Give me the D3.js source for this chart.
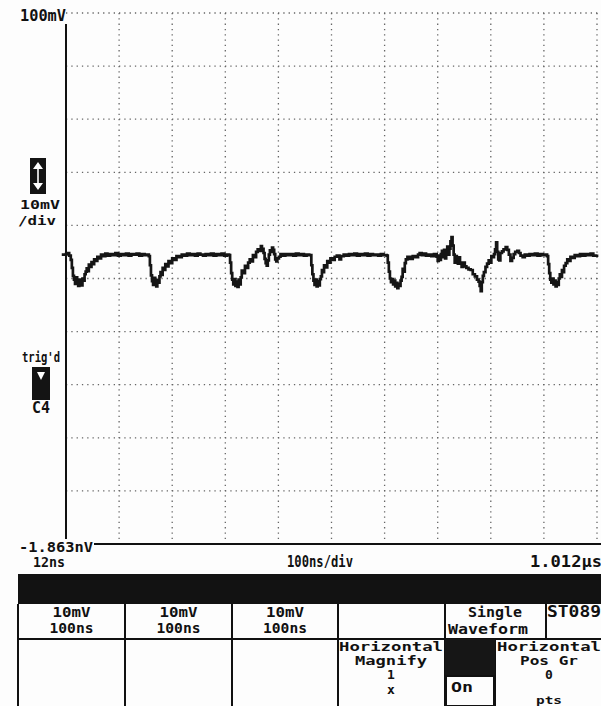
<!DOCTYPE html>
<html>
<head>
<meta charset="utf-8">
<script src="https://cdn.jsdelivr.net/npm/d3@7"></script>
<style>
  html, body { margin: 0; padding: 0; background: #fdfdfd; }
  svg { display: block; }
  text { font-family: "DejaVu Sans Mono", "Liberation Mono", monospace; font-weight: bold; fill: #111; }
</style>
</head>
<body>
<svg id="scope" width="601" height="706"></svg>
<script>
// Acquisition settings shown on screen
const timeRangeNs = [12, 1012];      // 100 ns/div, 10 divisions
const voltRangeMV = [0, 100];        // 10 mV/div, 10 divisions
const xDivisions = d3.range(0, 11);  // grid columns
const yDivisions = d3.range(0, 11);  // grid rows

// Channel 4 trace: time (ns)
const traceT = [4, 12, 15, 18, 21, 23, 25, 27, 29, 31, 33, 35, 37, 39, 41, 43, 45, 47, 49, 51, 53, 55, 57, 60, 62, 65, 68, 71, 74, 78, 82, 86, 90, 95, 100, 105, 110, 115, 120, 125, 130, 135, 140, 145, 150, 155, 160, 165,
  168, 170, 172, 174, 176, 178, 180, 182, 184, 186, 188, 190, 192, 194, 196, 199, 202, 205, 208, 212, 216, 220, 225, 230, 235, 240, 245, 250, 255, 260, 265, 270, 275, 280, 285, 290, 295, 300, 305, 310, 315, 319,
  321, 323, 325, 327, 329, 331, 333, 335, 337, 339, 341, 343, 346, 349, 352, 355, 358, 361, 364, 367, 370, 373, 376, 379, 381, 384, 386, 388, 390, 392, 394, 396, 398, 400, 402, 404, 406, 408, 410, 413, 416, 420, 425, 430, 435, 440, 445, 450, 455, 460, 465, 470,
  474, 476, 478, 480, 482, 484, 486, 488, 490, 492, 494, 496, 498, 501, 504, 507, 510, 514, 518, 522, 527, 530, 535, 540, 545, 550, 555, 560, 565, 570, 575, 580, 585, 590, 595, 600, 605, 610, 616,
  618, 620, 622, 624, 626, 628, 630, 632, 634, 636, 638, 640, 642, 644, 646, 648, 650, 652, 655, 660, 665, 670, 675, 678, 682, 686, 690, 695, 700, 705, 710,
  712, 714, 716, 718, 720, 722, 724, 726, 728, 730, 732, 734, 736, 738, 740, 742, 744, 746, 748, 750, 752, 754, 757, 760, 763, 766, 770, 774, 778, 782, 786, 789, 791, 793, 795, 797, 799, 802, 805, 808, 811, 813, 815, 818, 820, 822, 824, 826, 828, 830, 833, 836, 840, 843, 846, 849, 852, 855, 858, 862, 865, 868, 872, 876, 880, 885, 890, 895, 900, 905, 910, 915,
  918, 920, 922, 924, 926, 928, 930, 932, 934, 936, 938, 940, 942, 944, 946, 948, 950, 953, 956, 959, 962, 966, 970, 975, 980, 985, 990, 995, 1000, 1005, 1012];

// Channel 4 trace: amplitude (mV)
const traceMV = [54.5, 54.6, 54.8, 54.3, 53.5, 52.0, 50.5, 49.8, 49.0, 50.2, 49.2, 48.6, 49.8, 49.3, 48.7, 50.0, 49.6, 50.8, 51.3, 51.9, 51.4, 52.6, 52.2, 53.1, 52.7, 53.6, 53.3, 54.1, 53.8, 54.5, 54.2, 54.7, 54.3, 54.6, 54.4, 54.8, 54.3, 54.6, 54.4, 54.7, 54.3, 54.6, 54.5, 54.7, 54.3, 54.6, 54.4, 54.5,
  54.2, 52.5, 50.6, 49.5, 48.8, 50.1, 49.0, 48.5, 49.7, 49.2, 50.4, 51.2, 50.7, 52.0, 51.6, 52.7, 52.3, 53.3, 52.9, 53.8, 53.5, 54.2, 54.0, 54.5, 54.3, 54.7, 54.4, 54.6, 54.3, 54.7, 54.5, 54.3, 54.6, 54.4, 54.7, 54.3, 54.6, 54.4, 54.7, 54.3, 54.5, 54.4,
  53.0, 51.0, 49.8, 48.9, 49.9, 48.6, 49.4, 48.4, 49.8, 48.9, 50.2, 51.5, 51.0, 52.4, 52.0, 53.0, 53.6, 53.2, 54.4, 54.0, 55.0, 55.5, 55.2, 56.1, 55.6, 54.8, 53.7, 52.9, 52.4, 53.4, 54.5, 55.3, 55.0, 55.8, 55.4, 54.6, 53.6, 53.2, 53.8, 54.1, 54.6, 54.3, 54.6, 54.4, 54.6, 54.3, 54.7, 54.4, 54.6, 54.3, 54.5, 54.4,
  52.5, 50.8, 49.6, 48.8, 49.8, 48.5, 49.5, 48.7, 49.9, 50.4, 51.6, 51.2, 52.5, 52.1, 53.3, 53.0, 53.8, 53.5, 54.1, 54.3, 53.6, 54.2, 54.5, 54.3, 54.6, 54.4, 54.7, 54.3, 54.6, 54.4, 54.7, 54.3, 54.6, 54.4, 54.5, 54.3, 54.6, 54.4, 54.3,
  53.0, 51.3, 50.0, 49.3, 49.9, 48.9, 49.6, 48.5, 49.2, 48.2, 49.0, 48.6, 49.6, 50.3, 51.8, 51.3, 52.9, 53.6, 54.1, 53.7, 54.2, 54.0, 54.5, 54.8, 54.4, 54.7, 54.3, 54.5, 54.2, 54.6, 54.1,
  53.3, 54.3, 53.5, 54.6, 55.2, 54.0, 55.4, 53.8, 55.0, 56.0, 54.5, 55.6, 57.0, 57.8, 56.2, 54.5, 53.0, 54.2, 53.2, 52.8, 54.0, 53.0, 52.2, 53.0, 52.3, 52.0, 51.7, 51.6, 50.8, 50.4, 49.8, 49.4, 48.6, 47.6, 49.3, 50.5, 51.2, 52.2, 52.8, 53.4, 53.0, 54.2, 54.0, 54.6, 55.5, 56.8, 55.0, 53.6, 53.4, 54.8, 55.1, 55.5, 55.9, 55.4, 54.5, 53.3, 53.9, 54.6, 55.0, 55.2, 54.8, 54.3, 54.0, 54.5, 54.3, 54.6, 54.4, 54.7, 54.3, 54.6, 54.4, 54.5,
  54.2, 52.7, 51.0, 49.8, 49.2, 50.0, 48.9, 49.6, 48.5, 49.3, 48.8, 50.0, 50.8, 50.3, 51.6, 51.2, 52.4, 52.9, 53.6, 53.3, 54.1, 53.9, 54.4, 54.2, 54.6, 54.3, 54.6, 54.4, 54.7, 54.3, 54.5];

// Readout labels
const topLabel = "100mV";
const bottomLabel = "-1.863nV";
const scaleLabels = ["10mV", "/div"];
const timeLabels = ["12ns", "100ns/div", "1.012\u00b5s"];
const channelCells = [["10mV", "100ns"], ["10mV", "100ns"], ["10mV", "100ns"]];
const modeLabels = ["Single", "Waveform"];
const storeLabel = "ST089";
const magnifyLabels = ["Horizontal", "Magnify", "1", "x"];
const positionLabels = ["Horizontal", "Pos Gr", "0", "pts"];

const svg = d3.select("#scope");

// Graticule geometry
const plot = { left: 66, right: 597, top: 13, bottom: 544 };
const x = d3.scaleLinear().domain(timeRangeNs).range([plot.left, plot.right]);
const y = d3.scaleLinear().domain(voltRangeMV).range([plot.bottom, plot.top]);
const xDiv = d3.scaleLinear().domain([0, 10]).range([plot.left, plot.right]);
const yDiv = d3.scaleLinear().domain([0, 10]).range([plot.bottom, plot.top]);

const grid = svg.append("g").attr("stroke", "#666").attr("stroke-width", 1.3)
  .attr("stroke-dasharray", "1.3,4").attr("fill", "none");
grid.selectAll("line.v").data(xDivisions.filter(d => d > 0)).join("line")
  .attr("class", "v")
  .attr("x1", d => xDiv(d)).attr("x2", d => xDiv(d))
  .attr("y1", plot.top).attr("y2", plot.bottom);
grid.selectAll("line.h").data(yDivisions.filter(d => d > 0)).join("line")
  .attr("class", "h")
  .attr("x1", plot.left).attr("x2", plot.right + 4)
  .attr("y1", d => yDiv(d)).attr("y2", d => yDiv(d));

// Solid left and bottom edges
svg.append("line").attr("x1", plot.left).attr("x2", plot.left)
  .attr("y1", 24).attr("y2", plot.bottom - 5)
  .attr("stroke", "#111").attr("stroke-width", 2);
svg.append("line").attr("x1", 94).attr("x2", 601)
  .attr("y1", plot.bottom).attr("y2", plot.bottom)
  .attr("stroke", "#111").attr("stroke-width", 2);

// Waveform
const pts = traceT.map((t, i) => [t, traceMV[i]]);
const line = d3.line().x(d => x(d[0])).y(d => y(d[1])).curve(d3.curveStepAfter);
svg.append("path").datum(pts)
  .attr("d", line)
  .attr("fill", "none").attr("stroke", "#151515")
  .attr("stroke-width", 2.7).attr("stroke-linejoin", "miter");

// Text helper
function label(txt, px, py, size, len, anchor) {
  const t = svg.append("text").attr("x", px).attr("y", py)
    .attr("font-size", size).attr("text-anchor", anchor || "start").text(txt);
  if (len) t.attr("textLength", len).attr("lengthAdjust", "spacingAndGlyphs");
  return t;
}

// Left-side readouts
label(topLabel, 20, 21, 15, 46);
label(scaleLabels[0], 20, 209, 13, 40);
label(scaleLabels[1], 18, 225, 13, 38);
label("trig'd", 22, 362, 14, 38);
label("C4", 32, 413, 16, 18);
label(bottomLabel, 19, 552, 14, 74);

// Volts/div adjust icon
svg.append("rect").attr("x", 30).attr("y", 158).attr("width", 16).attr("height", 36).attr("fill", "#141414");
svg.append("line").attr("x1", 38).attr("x2", 38).attr("y1", 164).attr("y2", 188)
  .attr("stroke", "#fff").attr("stroke-width", 1.6);
svg.append("path").attr("d", "M33,169 L38,162 L43,169 Z M33,183 L38,190 L43,183 Z").attr("fill", "#fff");

// Trigger marker
svg.append("rect").attr("x", 32).attr("y", 367).attr("width", 18).attr("height", 33).attr("fill", "#141414");
svg.append("path").attr("d", "M37,372 L45,372 L41,380 Z").attr("fill", "#fff");

// Time readouts
label(timeLabels[0], 33, 567, 14, 32);
label(timeLabels[1], 287, 567, 15, 66);
label(timeLabels[2], 530, 567, 15, 72);

// Status band
svg.append("rect").attr("x", 18).attr("y", 574).attr("width", 583).attr("height", 30).attr("fill", "#121212");

// Menu table
const tbl = svg.append("g").attr("stroke", "#111").attr("stroke-width", 2).attr("fill", "none");
const rowTop = 604, rowMid = 639, rowBot = 706;
const colX = [18, 125, 232, 338, 445];
tbl.append("line").attr("x1", 18).attr("x2", 601).attr("y1", rowMid).attr("y2", rowMid);
colX.forEach(cx => tbl.append("line").attr("x1", cx).attr("x2", cx).attr("y1", rowTop).attr("y2", rowBot));
tbl.append("line").attr("x1", 546).attr("x2", 546).attr("y1", rowTop).attr("y2", rowMid);
tbl.append("line").attr("x1", 495).attr("x2", 495).attr("y1", rowMid).attr("y2", rowBot);

// Channel cells
channelCells.forEach((c, i) => {
  const cx = (colX[i] + colX[i + 1]) / 2;
  label(c[0], cx, 617, 14, 38, "middle");
  label(c[1], cx, 633, 14, 44, "middle");
});
label(modeLabels[0], 495, 617, 14, 54, "middle");
label(modeLabels[1], 488, 634, 14, 80, "middle");
label(storeLabel, 547, 617, 15, 54);

// Magnify cell
label(magnifyLabels[0], 391, 651, 12, 104, "middle");
label(magnifyLabels[1], 391, 665, 12, 72, "middle");
label(magnifyLabels[2], 391, 679, 13, null, "middle");
label(magnifyLabels[3], 391, 694, 13, null, "middle");

// On/Off selector
svg.append("rect").attr("x", 445).attr("y", 639).attr("width", 50).attr("height", 36).attr("fill", "#161616");
svg.append("rect").attr("x", 446).attr("y", 676).attr("width", 48).attr("height", 30)
  .attr("fill", "none").attr("stroke", "#111").attr("stroke-width", 2);
label("On", 451, 692, 14, 22);

// Position cell
label(positionLabels[0], 549, 651, 12, 104, "middle");
label(positionLabels[1], 549, 665, 12, 58, "middle");
label(positionLabels[2], 549, 679, 13, null, "middle");
label(positionLabels[3], 549, 704, 11, 26, "middle");
</script>
</body>
</html>
